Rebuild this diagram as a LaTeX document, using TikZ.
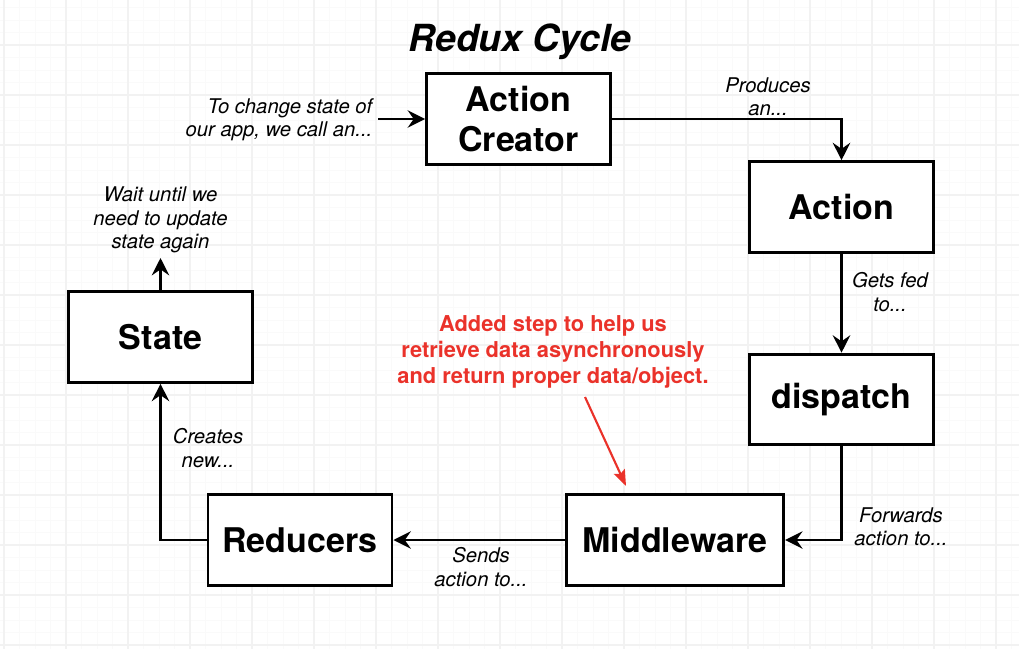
\documentclass[tikz,border=0pt]{standalone}
\usepackage{fontspec}
\setmainfont{TeX Gyre Heros}
\usetikzlibrary{arrows.meta}
\definecolor{notered}{RGB}{234,50,42}

\begin{document}
\begin{tikzpicture}[x=0.75pt,y=-0.75pt,
  box/.style={draw,line width=2.2pt,fill=white,minimum width=138pt,minimum height=68pt,
    align=center,font=\bfseries\fontsize{25.5}{30}\selectfont},
  note/.style={align=center,font=\itshape\fontsize{15.2}{17.5}\selectfont},
  flow/.style={line width=2.2pt,-{Stealth[length=13pt,width=13pt,inset=4.5pt]}}]
  \useasboundingbox (0,0) rectangle (1019,649);
  \foreach \gx in {4,19.5,...,1019} \draw[black!2,line width=0.6pt] (\gx,0) -- (\gx,649);
  \foreach \gy in {7.5,20,...,649} \draw[black!2,line width=0.6pt] (0,\gy) -- (1019,\gy);
  \foreach \gx in {4,66,...,1019} \draw[black!5,line width=0.8pt] (\gx,0) -- (\gx,649);
  \foreach \gy in {45,95,...,649} \draw[black!5,line width=0.8pt] (0,\gy) -- (1019,\gy);

  \node (title) at (520,42) {\bfseries\itshape\fontsize{28}{32}\selectfont Redux Cycle};

  \node[box] (creator) at (518.5,119) {Action\\Creator};
  \node[box] (action) at (841.5,207) {Action};
  \node[box] (dispatch) at (841.5,399.5) {dispatch};
  \node[box,minimum width=163pt] (middleware) at (675,540) {Middleware};
  \node[box] (reducers) at (300,540) {Reducers};
  \node[box] (state) at (160.5,337) {State};

  \coordinate (start) at (378,119);
  \coordinate (wait) at (160.5,258);
  \draw[flow] (start) -- (creator.west);
  \draw[flow] (creator.east) -| (action.north);
  \draw[flow] (action) -- (dispatch);
  \draw[flow] (dispatch.south) |- (middleware.east);
  \draw[flow] (middleware) -- (reducers);
  \draw[flow] (reducers.west) -| (state.south);
  \draw[flow] (state.north) -- (wait);

  \node[note,align=right,anchor=east] (lblcall) at (377,120) {To change state of\\our app, we call an...};
  \node[note] (lblproduce) at (768,97) {Produces\\an...};
  \node[note] (lblfed) at (890,292) {Gets fed\\to...};
  \node[note] (lblforward) at (901,527) {Forwards\\action to...};
  \node[note] (lblsend) at (481,567) {Sends\\action to...};
  \node[note] (lblcreate) at (208,448) {Creates\\new...};
  \node[note] (lblwait) at (160.5,220) {Wait until we\\need to update\\state again};

  \node[align=center,text=notered,font=\bfseries\fontsize{16.4}{19.2}\selectfont] (addnote) at (553,352)
    {Added step to help us\\retrieve data asynchronously\\and return proper data/object.};
  \coordinate (redstart) at (585,397);
  \coordinate (redtip) at (626,486);
  \draw[notered,line width=1.6pt,-{Stealth[length=12pt,width=9pt,inset=2pt]}] (redstart) -- (redtip);
\end{tikzpicture}
\end{document}
